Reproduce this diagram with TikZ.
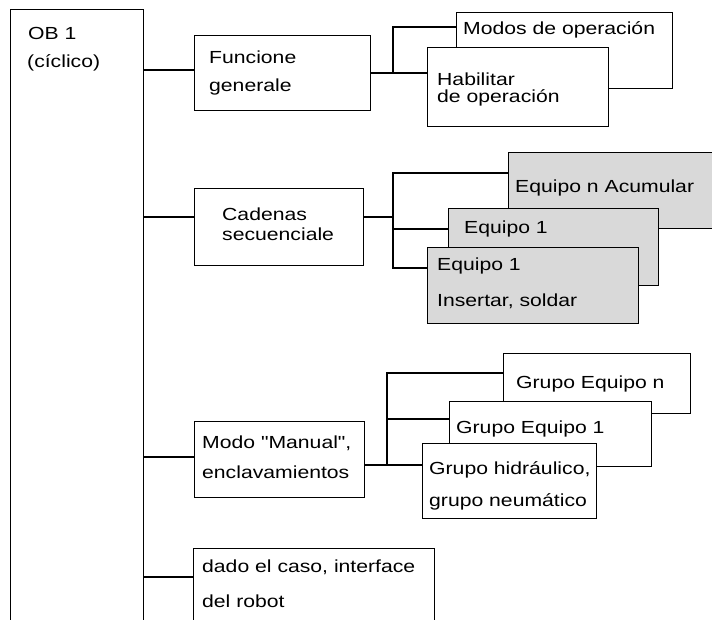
\documentclass[tikz,border=0pt]{standalone}
\usepackage{fontspec}
\setmainfont[FakeStretch=1.21,Ligatures=TeXOff]{Liberation Sans}
\definecolor{boxgray}{HTML}{D9D9D9}
\begin{document}
\begin{tikzpicture}[x=1pt,y=-1pt,
  box/.style={draw=black,line width=1.4pt,fill=white,rectangle,inner sep=0pt,anchor=north west},
  graybox/.style={box,fill=boxgray},
  txt/.style={anchor=base west,inner sep=0pt,font=\fontsize{17.5}{20}\selectfont},
  conn/.style={line width=1.4pt}]
\useasboundingbox (0,0) rectangle (712,620);
% main block
\node[box,minimum width=133pt,minimum height=660pt] (ob) at (10,9) {};
% level 1
\node[box,minimum width=176pt,minimum height=75pt] (fun) at (194,35) {};
\node[box,minimum width=169pt,minimum height=77pt] (cad) at (194,188) {};
\node[box,minimum width=170pt,minimum height=76pt] (man) at (194,421) {};
\node[box,minimum width=241pt,minimum height=110pt] (dado) at (193,548) {};
% connectors level 1
\draw[conn] (ob.east |- {0,70}) -- (fun.west |- {0,70});
\draw[conn] (ob.east |- {0,217}) -- (cad.west |- {0,217});
\draw[conn] (ob.east |- {0,457}) -- (man.west |- {0,457});
\draw[conn] (ob.east |- {0,577}) -- (dado.west |- {0,577});
% group 1
\coordinate (j1) at (393,73);
\draw[conn] (fun.east |- j1) -- (j1);
\node[box,minimum width=216pt,minimum height=76pt] (mod) at (456,12) {};
\node[box,minimum width=181pt,minimum height=79pt] (hab) at (427,47) {};
\draw[conn] (mod.west |- {0,27}) -| (j1) -- (hab.west |- j1);
% group 2
\coordinate (j2) at (393,217);
\draw[conn] (cad.east |- j2) -- (j2);
\node[graybox,minimum width=204pt,minimum height=76pt] (eqn) at (508,152) {};
\node[graybox,minimum width=210pt,minimum height=77pt] (eqb) at (448,208) {};
\node[graybox,minimum width=211pt,minimum height=76pt] (eqa) at (427,247) {};
\draw[conn] (eqn.west |- {0,173}) -| (j2 |- {0,268}) -- (eqa.west |- {0,268});
\draw[conn] (j2 |- {0,229}) -- (eqb.west |- {0,229});
% group 3
\coordinate (j3) at (387,465);
\draw[conn] (man.east |- j3) -- (j3);
\node[box,minimum width=187pt,minimum height=60pt] (gn) at (503,353) {};
\node[box,minimum width=202pt,minimum height=65pt] (g1) at (449,401) {};
\node[box,minimum width=174pt,minimum height=75pt] (gh) at (422,443) {};
\draw[conn] (gn.west |- {0,373}) -| (j3) -- (gh.west |- j3);
\draw[conn] (j3 |- {0,419}) -- (g1.west |- {0,419});
% texts
\node[txt] (t1) at (28,40) {OB 1};
\node[txt] (t2) at (27,68) {(cíclico)};
\node[txt] (t3) at (209,64) {Funcione};
\node[txt] (t4) at (209,92) {generale};
\node[txt] (t5) at (463,35) {Modos de operación};
\node[txt] (t6) at (437,86) {Habilitar};
\node[txt] (t7) at (437,103) {de operación};
\node[txt] (t8) at (222,221) {Cadenas};
\node[txt] (t9) at (222,241) {secuenciale};
\node[txt] (t10) at (515,193) {Equipo n Acumular};
\node[txt] (t11) at (464,234) {Equipo 1};
\node[txt] (t12) at (437,271) {Equipo 1};
\node[txt] (t13) at (437,306) {Insertar, soldar};
\node[txt] (t14) at (202,448) {Modo "Manual",};
\node[txt] (t15) at (202,478) {enclavamientos};
\node[txt] (t16) at (516,388) {Grupo Equipo n};
\node[txt] (t17) at (456,433) {Grupo Equipo 1};
\node[txt] (t18) at (429,474) {Grupo hidráulico,};
\node[txt] (t19) at (429,506) {grupo neumático};
\node[txt] (t20) at (202,572) {dado el caso, interface};
\node[txt] (t21) at (202,607) {del robot};
\end{tikzpicture}
\end{document}
